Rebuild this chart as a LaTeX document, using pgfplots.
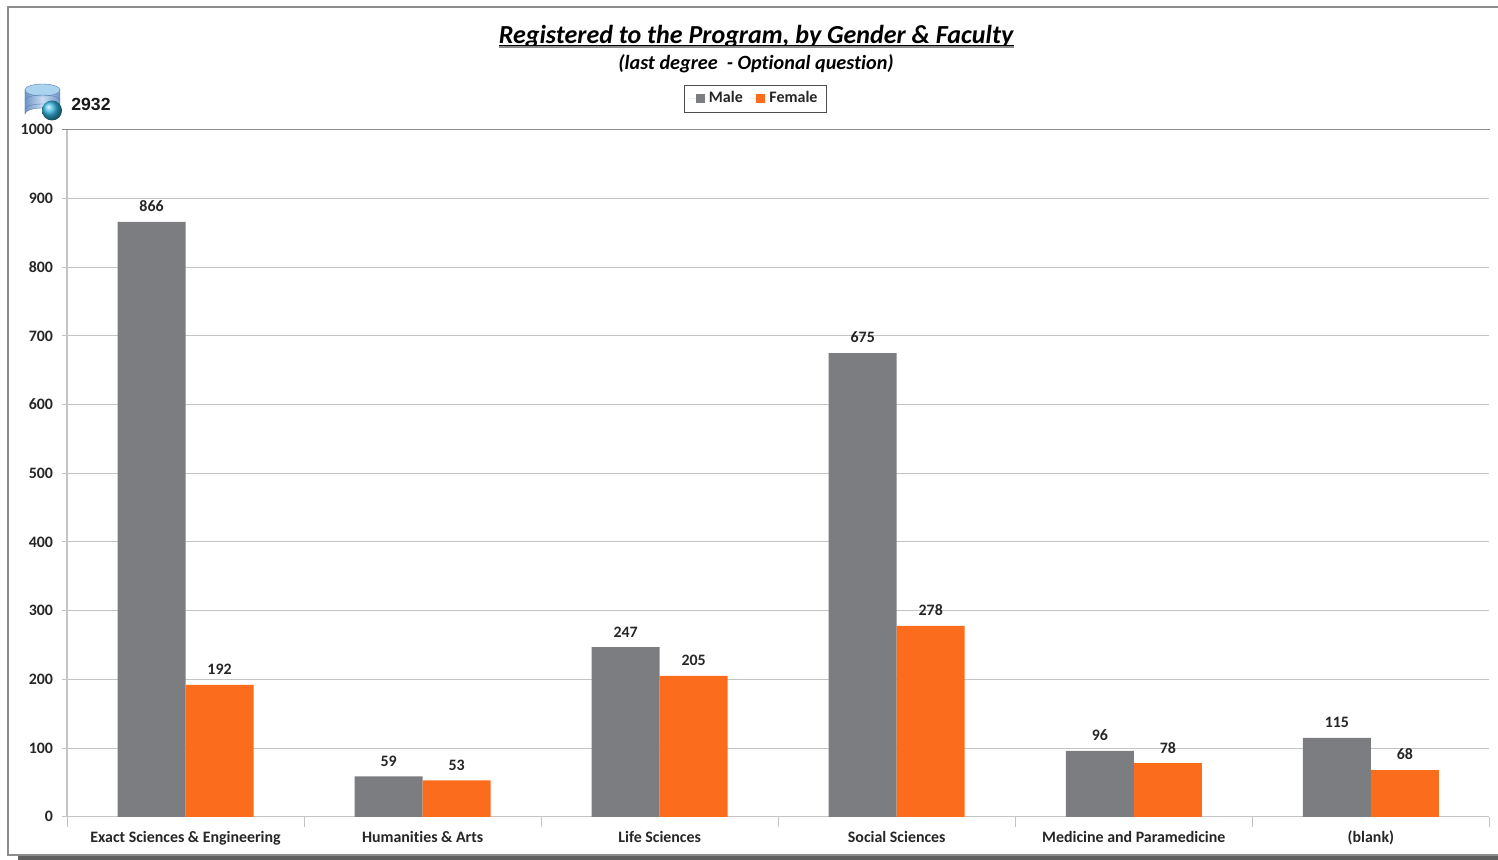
\documentclass[border=0pt]{standalone}
\usepackage{pgfplots}
\pgfplotsset{compat=1.18}
\usepackage{fontspec}
\setmainfont[Ligatures=NoCommon]{Carlito}
\newfontfamily\arialfont{Liberation Sans}
\definecolor{malegray}{HTML}{7C7D80}
\definecolor{femaleorange}{HTML}{FB6D1D}
\definecolor{gridgray}{HTML}{C4C4C4}
\definecolor{framegray}{HTML}{8C8C8C}
\definecolor{dbdark}{HTML}{6F93C8}
\definecolor{dblight}{HTML}{C9DDF2}
\definecolor{dbtop}{HTML}{A9D3EE}
\definecolor{dbline}{HTML}{5F80B0}
\definecolor{globe}{HTML}{35B6E0}
\begin{document}
\begin{tikzpicture}
  % 1 px of the reference = 0.5pt, axis lower left at px (67,816)
  \path[use as bounding box] (-33.5pt,-22pt) rectangle (715.5pt,408pt);
  \begin{scope}[shift={(-33.5pt,408pt)},x=0.5pt,y=-0.5pt]
    \fill[gray!75!black] (18,855) rectangle (1498,860);
    \fill[white] (8,7) rectangle (1498,855);
    \draw[framegray,line width=0.6pt] (1498,7) -- (8,7) -- (8,855) -- (1498,855);
  \end{scope}
  \begin{axis}[
    at={(0,-0.4pt)}, anchor=south west,
    scale only axis,
    width=711.2pt, height=343.5pt,
    ybar=0pt, bar width=34pt,
    xmin=-0.5, xmax=5.5,
    ymin=0, ymax=1000,
    axis x line*=bottom, axis y line*=left,
    axis line style={gridgray,-,line width=0.7pt},
    xtick=data,
    xticklabels={Exact Sciences \& Engineering,Humanities \& Arts,Life Sciences,Social Sciences,Medicine and Paramedicine,(blank)},
    minor xtick={-0.5,0.5,...,5.5},
    major x tick style={draw=none},
    minor tick length=5pt,
    minor x tick style={gridgray,line width=0.5pt},
    ytick={0,100,...,1000},
    major y tick style={gridgray,line width=0.5pt},
    major tick length=2.5pt,
    ymajorgrids,
    grid style={gridgray,line width=0.5pt},
    tick align=outside,
    tick pos=left,
    /pgf/number format/assume math mode=true,
    /pgf/number format/1000 sep={},
    tick label style={font=\bfseries\fontsize{7.95}{9}\selectfont,text=black!85},
    yticklabel style={xshift=-1pt},
    xticklabel style={yshift=-1.1pt},
    nodes near coords,
    every node near coord/.append style={font=\bfseries\fontsize{7.95}{9}\selectfont,text=black!85,yshift=1.5pt,/pgf/number format/assume math mode=true},
    legend style={at={(0.484,1.0455)},anchor=center,draw=black!70,line width=0.4pt,
      font=\bfseries\fontsize{8}{9}\selectfont,text=black!85,
      legend columns=2,inner xsep=2.5pt,inner ysep=1.2pt,
      /tikz/every even column/.style={column sep=1.5pt}},
    legend cell align=left,
    legend image code/.code={\path (0pt,0pt) -- (3.2pt,0pt); \fill[#1] (3.2pt,-2.2pt) rectangle (7.8pt,2.4pt);},
  ]
    \addplot[fill=malegray,draw=none] coordinates {(0,866) (1,59) (2,247) (3,675) (4,96) (5,115)};
    \addplot[fill=femaleorange,draw=none] coordinates {(0,192) (1,53) (2,205) (3,278) (4,78) (5,68)};
    \legend{Male,Female}
  \end{axis}
  \begin{scope}[shift={(-33.5pt,408pt)},x=0.5pt,y=-0.5pt]
    \draw[black!45,line width=0.5pt] (62,129.5) -- (1490,129.5);
    \node[font=\bfseries\itshape\fontsize{13}{15}\selectfont] at (756,37) {Registered to the Program, by Gender \& Faculty};
    \draw[black!45,line width=0.6pt] (499,47) -- (1014,47);
    \draw[black,line width=0.7pt] (499,45.5) -- (1014,45.5);
    \node[font=\bfseries\itshape\fontsize{10.1}{12}\selectfont] at (756,64) {(last degree\ \ - Optional question)};
    \node[font=\arialfont\bfseries\fontsize{8.8}{10}\selectfont,text=black!90,anchor=west,inner sep=0pt] at (71,104) {2932};
    % database icon
    \shade[left color=dbdark,right color=dbdark,middle color=dblight,draw=dbline,line width=0.2pt]
      (25,90) -- (25,114) arc[start angle=180,end angle=360,x radius=17.5,y radius=6] -- (60,90) -- cycle;
    \fill[dbtop,draw=dbline,line width=0.2pt] (42.5,90) ellipse[x radius=17.5,y radius=6];
    \draw[dbline,line width=0.2pt] (25,100) arc[start angle=180,end angle=360,x radius=17.5,y radius=5];
    \draw[dbline,line width=0.2pt] (25,109) arc[start angle=180,end angle=360,x radius=17.5,y radius=5];
    \shade[ball color=globe] (52,110.5) circle[radius=10];
  \end{scope}
\end{tikzpicture}
\end{document}
